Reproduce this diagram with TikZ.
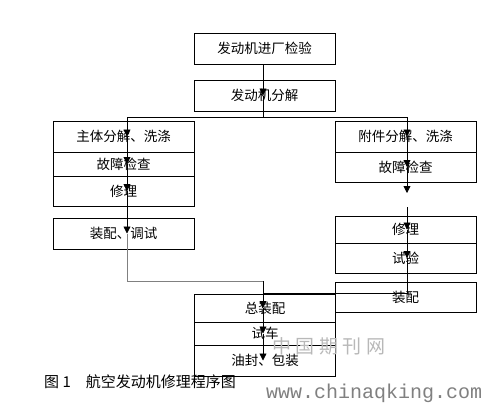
\documentclass[tikz,border=0pt]{standalone}
\usepackage{fontspec}
\newfontfamily\cjk{Noto Sans CJK SC}
\newfontfamily\wmfont{Liberation Mono}
\usetikzlibrary{arrows.meta}

\begin{document}
\begin{tikzpicture}[
		x=1pt, y=-1pt,
		box/.style={
			draw,
			line width=0.8pt,
			minimum width=141pt,
			inner sep=0pt,
			font=\cjk\fontsize{13.5}{14}\selectfont
		},
		arrow/.style={
			-{Triangle[length=7pt,width=7pt]},
			line width=0.8pt
		},
		line/.style={
			line width=0.8pt
		},
		grayline/.style={
			line width=1pt,
			draw=black!50
		}
		]
		
		\useasboundingbox (0,0) rectangle (495,407);
		
		% 进厂与分解
		\node[box, minimum height=31pt] (jianyan) at (264.5,48.5) {发动机进厂检验};
		\node[box, minimum height=31pt] (fenjie) at (264.5,95.5) {发动机分解};
		
		% 主体
		\node[box, minimum height=31pt] (zt1) at (123.5,136.5) {主体分解、洗涤};
		\node[box, minimum height=24pt] (zt2) at (123.5,164) {故障检查};
		\node[box, minimum height=30pt] (zt3) at (123.5,191) {修理};
		\node[box, minimum height=31pt] (zp) at (123.5,233.5) {装配、调试};
		
		% 附件
		\node[box, minimum height=31pt] (fj1) at (405.5,136.5) {附件分解、洗涤};
		\node[box, minimum height=30pt] (fj2) at (405.5,167) {故障检查};
		\node[box, minimum height=27pt] (xl) at (405.5,229.5) {修理};
		\node[box, minimum height=30pt] (sy) at (405.5,258) {试验};
		\node[box, minimum height=30pt] (fjzp) at (405.5,297) {装配};
		
		% 总装
		\node[box, minimum height=28pt] (zz1) at (265,308) {总装配};
		\node[box, minimum height=23pt] (zz2) at (265,333.5) {试车};
		\node[box, minimum height=31pt] (zz3) at (265,360.5) {油封、包装};
		
		% 图题与水印
		\node[anchor=west, inner sep=0pt, font=\cjk\fontsize{15}{16}\selectfont] (title) at (44,382) {图 1\quad 航空发动机修理程序图};
		\node[inner sep=0pt, text=black!28, font=\cjk\fontsize{19}{20}\selectfont] (wm) at (329,346) {中\hspace{4.5pt}国\hspace{4.5pt}期\hspace{4.5pt}刊\hspace{4.5pt}网};
		\node[anchor=west, inner sep=0pt, text=black!50, font=\wmfont\fontsize{20}{21}\selectfont] (site) at (266,393) {www.chinaqking.com};
		
		% 分叉点
		\coordinate (top) at (263,117);
		\coordinate (ltop) at (127,117);
		\coordinate (rtop) at (407,117);
		\coordinate (rgap) at (407,193);
		\coordinate (rback) at (407,207);
		\coordinate (rjoin) at (407,293);
		\coordinate (ljoin) at (263,281);
		
		% 进厂到分解
		\draw[arrow] (jianyan.south -| top) -- (fenjie.center -| top);
		\draw[line] (fenjie.center -| top) -- (top);
		\draw[line] (ltop) -- (rtop);
		
		% 主体线路
		\draw[arrow] (ltop) -- (zt1.center -| ltop);
		\draw[arrow] (zt1.center -| ltop) -- (zt2.center -| ltop);
		\draw[arrow] (zt2.center -| ltop) -- (zt3.center -| ltop);
		\draw[arrow] (zt3.center -| ltop) -- (zp.center -| ltop);
		\draw[grayline] (zp.center -| ltop) |- (ljoin);
		
		% 附件线路
		\draw[arrow] (rtop) -- (fj1.center -| rtop);
		\draw[arrow] (fj1.center -| rtop) -- (fj2.center -| rtop);
		\draw[arrow] (fj2.center -| rtop) -- (rgap);
		\draw[arrow] (rback) -- (xl.center -| rtop);
		\draw[arrow] (xl.center -| rtop) -- (sy.center -| rtop);
		\draw[line] (sy.center -| rtop) -- (rjoin) -- (rjoin -| top);
		
		% 总装线路
		\draw[arrow] (ljoin) -- (zz1.center -| top);
		\draw[arrow] (zz1.center -| top) -- (zz2.center -| top);
		\draw[arrow] (zz2.center -| top) -- (zz3.center -| top);
		
	\end{tikzpicture}
\end{document}
